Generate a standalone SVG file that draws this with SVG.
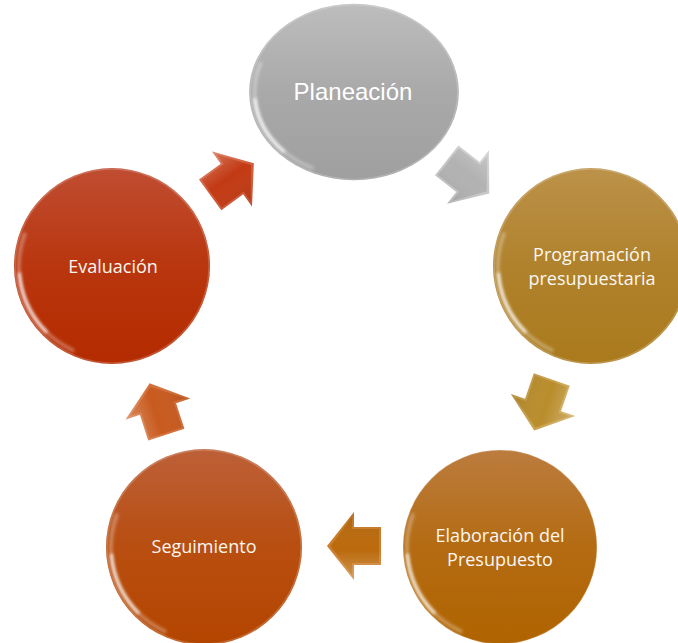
<svg xmlns="http://www.w3.org/2000/svg" xmlns:xlink="http://www.w3.org/1999/xlink" width="678" height="643" viewBox="0 0 678 643">
<style>
.lbl{font-family:"Open Sans","Noto Sans","Liberation Sans",sans-serif;font-size:18px;fill:#fbf7f2;text-anchor:middle}
.lblP{font-family:"Liberation Sans",Arial,sans-serif;font-size:24px;fill:#ffffff;text-anchor:middle}
.rim{fill:none;stroke:#ffffff;stroke-opacity:0.2;stroke-width:1.5}
.glow{fill:none;stroke:#ffffff;stroke-linecap:round}
</style>
<defs>
<linearGradient id="gPlan" x1="0" y1="0" x2="0" y2="1"><stop offset="0" stop-color="#bdbdbd"/><stop offset="0.5" stop-color="#a9a9a9"/><stop offset="1" stop-color="#9f9f9f"/></linearGradient>
<linearGradient id="gProg" x1="0" y1="0" x2="0" y2="1"><stop offset="0" stop-color="#bc924a"/><stop offset="0.5" stop-color="#b0822c"/><stop offset="1" stop-color="#aa7a1c"/></linearGradient>
<linearGradient id="gElab" x1="0" y1="0" x2="0" y2="1"><stop offset="0" stop-color="#bb7c3e"/><stop offset="0.5" stop-color="#b46b12"/><stop offset="1" stop-color="#b06400"/></linearGradient>
<linearGradient id="gSeg" x1="0" y1="0" x2="0" y2="1"><stop offset="0" stop-color="#bd6038"/><stop offset="0.5" stop-color="#b84e10"/><stop offset="1" stop-color="#b44500"/></linearGradient>
<linearGradient id="gEval" x1="0" y1="0" x2="0" y2="1"><stop offset="0" stop-color="#c04d32"/><stop offset="0.5" stop-color="#b9360e"/><stop offset="1" stop-color="#b42b00"/></linearGradient>
<linearGradient id="shine" x1="0" y1="0" x2="0" y2="1"><stop offset="0" stop-color="#ffffff" stop-opacity="0.3"/><stop offset="0.45" stop-color="#ffffff" stop-opacity="0"/><stop offset="1" stop-color="#000000" stop-opacity="0.1"/></linearGradient>
<filter id="blur" x="-50%" y="-50%" width="200%" height="200%"><feGaussianBlur stdDeviation="1.6"/></filter>
<path id="arr" d="M-27,-19 H0 V-34 L27,0 L0,34 V19 H-27 Z"/>
<path id="arrIn" d="M-25,-17 H2 V-29 L23.5,0 L2,29 V17 H-25 Z"/>
<g id="gloss">
<circle r="97" class="rim"/>
<path class="glow" d="M-39.3,84.3 A93 93 0 0 1 -87.4,-31.8" stroke-width="4" stroke-opacity="0.3" filter="url(#blur)"/>
<path class="glow" d="M-65.8,65.8 A93 93 0 0 1 -92.6,8.1" stroke-width="3" stroke-opacity="0.8" filter="url(#blur)"/>
</g>
</defs>

<g id="connectors">
<g id="arrow-eval-plan" transform="translate(232,179) rotate(-36)"><use xlink:href="#arr" fill="#cf5a38"/><use xlink:href="#arrIn" fill="#c23a14"/><use xlink:href="#arr" fill="url(#shine)"/></g>
<g id="arrow-plan-prog" transform="translate(468,177) rotate(38)"><use xlink:href="#arr" fill="#c8c8c8"/><use xlink:href="#arrIn" fill="#b2b2b2"/><use xlink:href="#arr" fill="url(#shine)"/></g>
<g id="arrow-prog-elab" transform="translate(543,405) rotate(109)"><use xlink:href="#arr" fill="#c9a04a"/><use xlink:href="#arrIn" fill="#b98d2c"/><use xlink:href="#arr" fill="url(#shine)"/></g>
<g id="arrow-elab-seg" transform="translate(354,546) rotate(180)"><use xlink:href="#arr" fill="#cc7d2a"/><use xlink:href="#arrIn" fill="#bb6a0c"/><use xlink:href="#arr" fill="url(#shine)"/></g>
<g id="arrow-seg-eval" transform="translate(158,409) rotate(-108)"><use xlink:href="#arr" fill="#d4703a"/><use xlink:href="#arrIn" fill="#c85a1e"/><use xlink:href="#arr" fill="url(#shine)"/></g>
</g>

<g id="node-planeacion">
<g transform="translate(354,92) scale(1.07,0.9)">
<circle r="98" fill="url(#gPlan)"/>
<use xlink:href="#gloss"/>
</g>
<text class="lblP" x="353" y="100">Planeación</text>
</g>

<g id="node-programacion">
<g transform="translate(591,266)">
<circle r="98" fill="url(#gProg)"/>
<use xlink:href="#gloss"/>
</g>
<text class="lbl" x="592" y="261">Programación</text>
<text class="lbl" x="592" y="285">presupuestaria</text>
</g>

<g id="node-elaboracion">
<g transform="translate(500,547)">
<circle r="97" fill="url(#gElab)"/>
<use xlink:href="#gloss"/>
</g>
<text class="lbl" x="500" y="542">Elaboración del</text>
<text class="lbl" x="500" y="566">Presupuesto</text>
</g>

<g id="node-seguimiento">
<g transform="translate(204,547)">
<circle r="98" fill="url(#gSeg)"/>
<use xlink:href="#gloss"/>
</g>
<text class="lbl" x="204" y="553">Seguimiento</text>
</g>

<g id="node-evaluacion">
<g transform="translate(112,266)">
<circle r="98" fill="url(#gEval)"/>
<use xlink:href="#gloss"/>
</g>
<text class="lbl" x="113" y="273">Evaluación</text>
</g>
</svg>
